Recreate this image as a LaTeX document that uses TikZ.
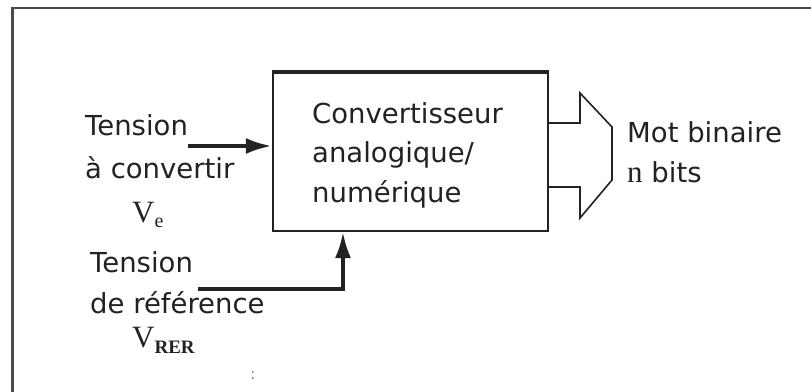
\documentclass[tikz,border=0pt]{standalone}
\usepackage{fontspec}
\setmainfont{DejaVu Sans}
\newfontfamily\vfont{Liberation Serif}
\usetikzlibrary{arrows.meta}
\definecolor{ink}{HTML}{222222}
\definecolor{framecol}{HTML}{4A4A4A}

\begin{document}
\begin{tikzpicture}[x=1pt,y=-1pt,
  lbl/.style={anchor=base west, inner sep=0pt, font=\fontsize{27.5}{32}\selectfont, text=ink},
  sym/.style={anchor=base west, inner sep=0pt, font=\vfont\fontsize{31}{32}\selectfont, text=ink},
  block/.style={draw=ink, line width=2.2pt, minimum width=275pt, minimum height=158pt, inner sep=0pt},
  feed/.style={draw=ink, line width=4pt, -{Latex[length=26pt,width=16pt]}},
  bus/.style={draw=ink, line width=1.6pt, line join=miter}]

  % page and outer frame
  \useasboundingbox (0,0) rectangle (811,391);
  \clip (0,0) rectangle (811,391);
  \fill[white] (0,0) rectangle (811,391);
  \draw[framecol, line width=2.2pt] (12.5,400) -- (12.5,8) -- (820,8);

  % converter block
  \node[block] (conv) at (410.5,152) {};
  \draw[ink, line width=3pt] (conv.north west) -- (conv.north east);
  \node[lbl] (c1) at (312,123) {Convertisseur};
  \node[lbl] (c2) at (312,162) {analogique/};
  \node[lbl] (c3) at (312,202) {numérique};

  % analogue input
  \node[lbl] (t1) at (85,135) {Tension};
  \node[lbl] (t2) at (85,178) {à convertir};
  \node[sym] (ve) at (132,222) {V\lower5pt\hbox{\fontsize{20}{20}\selectfont e}};
  \coordinate (inA) at (188,146);
  \draw[feed] (inA) -- (conv.west |- inA);

  % reference input
  \node[lbl] (r1) at (90,272) {Tension};
  \node[lbl] (r2) at (90,313) {de référence};
  \node[sym] (vr) at (132,347) {V\lower6pt\hbox{\bfseries\fontsize{19}{19}\selectfont RER}};
  \coordinate (inB) at (198,289);
  \coordinate (colB) at (343,0);
  \draw[feed, line width=3.5pt, line join=miter] (inB) -| (colB |- conv.south);

  % stray mark
  \node[text=gray, inner sep=0pt, font=\fontsize{15}{15}\selectfont] (dot) at (253,376) {:};

  % n-bit output bus
  \coordinate (bu) at (conv.east |- 0,123);
  \coordinate (bd) at (conv.east |- 0,187);
  \draw[bus] (bu) -- (580,123) -- (580,93) -- (612,127) -- (612,180)
             -- (580,218) -- (580,187) -- (bd);
  \node[lbl] (m1) at (627,142) {Mot binaire};
  \node[lbl] (m2) at (627,182) {{\vfont\fontsize{31}{32}\selectfont n} bits};
\end{tikzpicture}
\end{document}
